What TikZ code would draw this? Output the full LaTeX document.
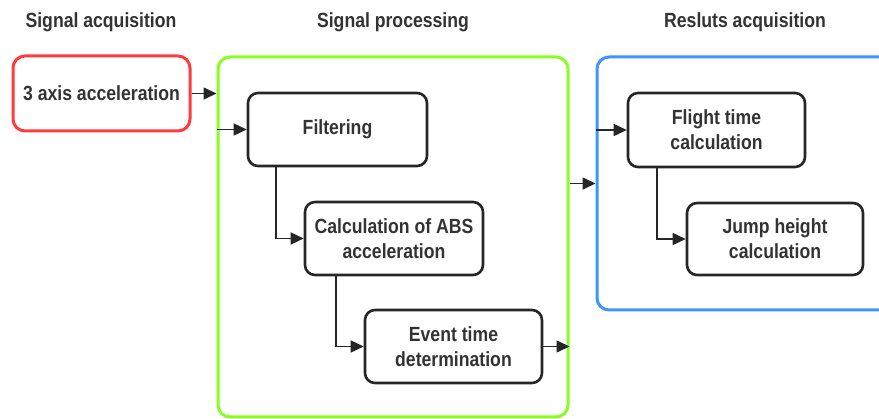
\documentclass[tikz,border=0pt]{standalone}
\usepackage{fontspec}
\setmainfont{Liberation Sans}[FakeStretch=0.86]
\usetikzlibrary{arrows.meta}
\definecolor{txt}{HTML}{333333}
\definecolor{redb}{HTML}{FF3B3B}
\definecolor{greenb}{HTML}{88FF22}
\definecolor{blueb}{HTML}{3D95FF}
\tikzset{
  title/.style={font=\bfseries\fontsize{20.5}{24}\selectfont, text=txt},
  stage/.style={draw, line width=3pt, rounded corners=12pt},
  proc/.style={draw=black!85, line width=2.6pt, rounded corners=10pt, font=\bfseries\fontsize{20.5}{25}\selectfont, text=txt, align=center, inner sep=0pt},
  conn/.style={draw=black!85, line width=1.6pt, -{Triangle[length=13pt,width=12pt]}},
}
\begin{document}
\begin{tikzpicture}[x=1pt,y=-1pt]
\clip (0,0) rectangle (879,419);
\fill[white] (0,0) rectangle (879,419);
% titles
\node[title] (t1) at (101,22) {Signal acquisition};
\node[title] (t2) at (393,22) {Signal processing};
\node[title] (t3) at (745,22) {Resluts acquisition};
% stage boxes
\node[stage, draw=redb, minimum width=177pt, minimum height=75pt, font=\bfseries\fontsize{20.5}{24}\selectfont, text=txt, inner sep=0pt] (acc) at (101.5,93.5) {3 axis acceleration};
\node[stage, draw=greenb, minimum width=350pt, minimum height=360pt] (proc) at (393,237) {};
\node[stage, draw=blueb, minimum width=320pt, minimum height=253pt] (res) at (757,183.5) {};
% inner boxes
\node[proc, minimum width=179pt, minimum height=73pt] (filt) at (337.5,129.5) {Filtering};
\node[proc, minimum width=178pt, minimum height=73pt] (abs) at (394,238.5) {Calculation of ABS\\acceleration};
\node[proc, minimum width=177pt, minimum height=73pt] (evt) at (453.5,346.5) {Event time\\determination};
\node[proc, minimum width=177pt, minimum height=74pt] (fly) at (716.5,130) {Flight time\\calculation};
\node[proc, minimum width=176pt, minimum height=72pt] (jmp) at (775,239) {Jump height\\calculation};
% connectors
\draw[conn] (acc.east) -- (acc.east -| proc.west);
\draw[conn] (proc.west |- filt.west) -- (filt.west);
\draw[conn] (filt.south -| 276,0) |- (abs.west);
\draw[conn] (abs.south -| 336,0) |- (evt.west);
\draw[conn] (evt.east) -- (evt.east -| proc.east);
\draw[conn] (proc.east |- res.west) -- (res.west);
\draw[conn] (res.west |- fly.west) -- (fly.west);
\draw[conn] (fly.south -| 657,0) |- (jmp.west);
\end{tikzpicture}
\end{document}
